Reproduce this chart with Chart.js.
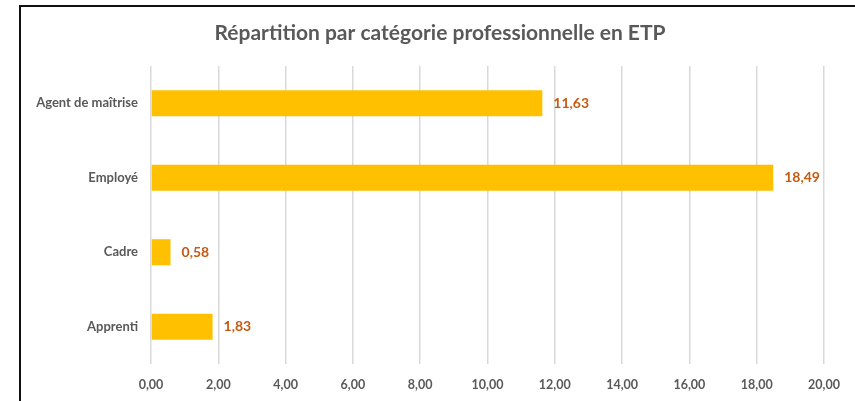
<!DOCTYPE html>
<html>
<head>
<meta charset="utf-8">
<script src="https://cdn.jsdelivr.net/npm/chart.js@4"></script>
<style>
  html, body { margin: 0; padding: 0; background: #fff; overflow: hidden; }
  #wrap { position: relative; width: 855px; height: 401px; }
  #frame { position: absolute; left: 19px; top: 5px; width: 900px; height: 500px;
           border-left: 2px solid #111; border-top: 2px solid #111; pointer-events: none; }
  canvas { position: absolute; left: 0; top: 0; }
</style>
</head>
<body>
<div id="wrap">
  <canvas id="chart" width="855" height="401"></canvas>
  <div id="frame"></div>
</div>
<script>
const categories = ["Agent de maîtrise", "Employé", "Cadre", "Apprenti"];
const etpValues = [11.63, 18.49, 0.58, 1.83];
const axisMin = 0;
const axisMax = 20;
const axisStep = 2;
const chartTitle = 'Répartition par catégorie professionnelle en ETP';

const frNum = v => Number(v).toFixed(2).replace('.', ',');

// labels at bar ends + title centred over the whole frame
const valueLabels = {
  id: 'valueLabels',
  afterDatasetsDraw(chart) {
    const ctx = chart.ctx;
    const meta = chart.getDatasetMeta(0);
    ctx.save();
    ctx.font = 'bold 14px Lato';
    ctx.fillStyle = '#C55A11';
    ctx.textAlign = 'left';
    ctx.textBaseline = 'middle';
    meta.data.forEach((bar, i) => {
      ctx.fillText(frNum(etpValues[i]), bar.x + 11, bar.y);
    });
    ctx.font = 'bold 21px Lato';
    ctx.fillStyle = '#595959';
    ctx.textAlign = 'center';
    ctx.fillText(chartTitle, 440, 33);
    ctx.restore();
  }
};

Chart.defaults.font.family = 'Lato';

new Chart(document.getElementById('chart'), {
  type: 'bar',
  data: {
    labels: categories,
    datasets: [{
      data: etpValues,
      backgroundColor: '#FFC000',
      borderWidth: 0,
      barPercentage: 0.7,
      categoryPercentage: 0.5
    }]
  },
  options: {
    indexAxis: 'y',
    responsive: false,
    animation: false,
    layout: { padding: { left: 22, right: 31, top: 66, bottom: 0 } },
    plugins: {
      legend: { display: false },
      tooltip: { enabled: false },
      title: { display: false }
    },
    scales: {
      x: {
        min: axisMin,
        max: axisMax,
        ticks: {
          stepSize: axisStep,
          color: '#595959',
          font: { size: 12.5, weight: 'bold' },
          padding: 13,
          callback: v => frNum(v)
        },
        grid: { color: '#D9D9D9', lineWidth: 1.5, drawTicks: false },
        border: { display: false },
        afterFit: s => { s.height = 37; }
      },
      y: {
        ticks: {
          color: '#595959',
          font: { size: 13, weight: 'bold' },
          padding: 13
        },
        grid: { display: false, drawTicks: false },
        border: { display: false },
        afterFit: s => { s.width = 129; }
      }
    }
  },
  plugins: [valueLabels]
});
</script>
</body>
</html>
